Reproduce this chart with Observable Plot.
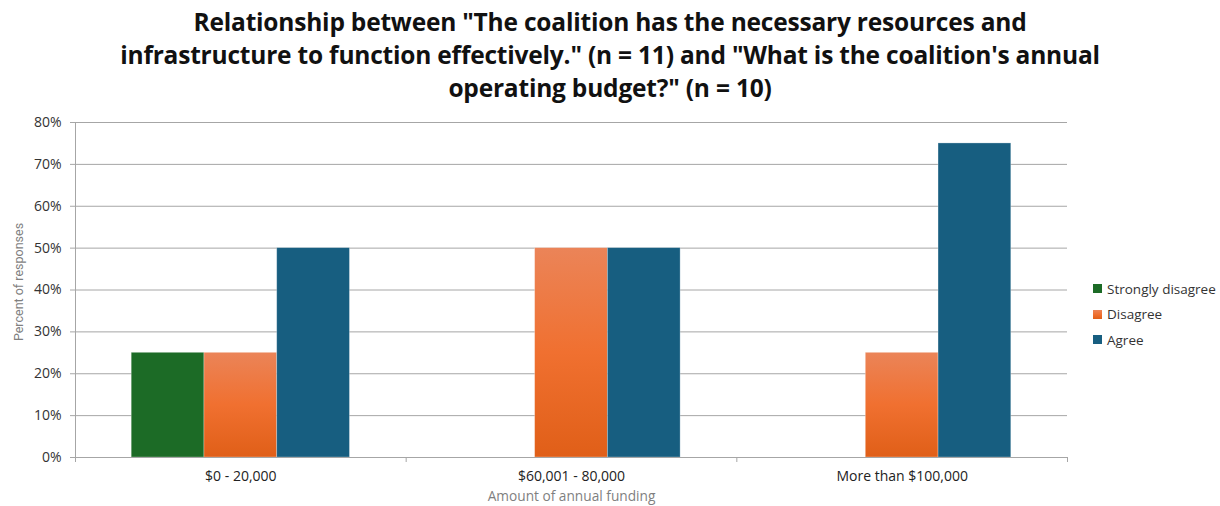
<!DOCTYPE html>
<html><head><meta charset="utf-8">
<script src="https://cdn.jsdelivr.net/npm/d3@7"></script>
<script src="https://cdn.jsdelivr.net/npm/@observablehq/plot@0.6"></script>
<style>
body{margin:0;background:#fff;font-family:"Open Sans",sans-serif;}
#wrap{position:relative;width:1220px;height:506px;overflow:hidden}
#title{padding-top:5px;text-align:center;font-weight:700;font-size:24.5px;line-height:33px;color:#111;height:99px;letter-spacing:-0.2px;white-space:nowrap}
#legend{position:absolute;left:1093px;top:276px;font-size:13.5px;color:#333}
.item{display:flex;align-items:center;height:25.5px}
.sw{width:9px;height:9px;margin-right:5px}
</style></head><body>
<div id="wrap">
<div id="title">Relationship between "The coalition has the necessary resources and<br>infrastructure to function effectively." (n = 11) and "What is the coalition's annual<br>operating budget?" (n = 10)</div>
<div id="chart"></div>
<div id="legend"></div>
</div>
<script>
const groups = ["$0 - 20,000", "$60,001 - 80,000", "More than $100,000"];
const seriesNames = ["Strongly disagree", "Disagree", "Agree"];
const stronglyDisagree = [0.25, 0, 0];
const disagree = [0.25, 0.5, 0.25];
const agree = [0.5, 0.5, 0.75];
const yTicks = [0, 0.1, 0.2, 0.3, 0.4, 0.5, 0.6, 0.7, 0.8];
const xTitle = ["Amount of annual funding"];
const yTitle = ["Percent of responses"];

const colors = ["#1c6b26", "url(#disGrad)", "#175e80"];
const swatchCss = ["#1c6b26", "linear-gradient(#eb8458,#f07030,#e05f18)", "#175e80"];
const barWidth = 0.22;
const values = [stronglyDisagree, disagree, agree];
const data = [];
groups.forEach((g, gi) => seriesNames.forEach((s, si) => data.push({group: g, gi, series: s, si, value: values[si][gi]})));

const grid = "#a6a6a6";
const chart = Plot.plot({
  width: 1220, height: 402,
  marginLeft: 75, marginRight: 153, marginTop: 18, marginBottom: 49,
  style: {fontFamily: "Open Sans", fontSize: "14px", color: "#333", background: "#fff"},
  x: {domain: [-0.5, 2.5]},
  y: {domain: [0, 0.8]},
  color: {domain: seriesNames, range: colors},
  marks: [
    Plot.gridY({ticks: yTicks, stroke: grid, strokeOpacity: 1}),
    Plot.rect(data, {
      x1: d => d.gi + (d.si - 1.5) * barWidth,
      x2: d => d.gi + (d.si - 0.5) * barWidth,
      y1: 0, y2: "value", fill: "series",
      stroke: "#fff", strokeOpacity: 0.35, strokeWidth: 0.8
    }),
    Plot.ruleX([-0.5], {stroke: grid}),
    Plot.ruleY([0], {stroke: grid}),
    Plot.axisY({ticks: yTicks, tickFormat: d3.format(".0%"), tickSize: 5, tickPadding: 9, stroke: grid, fill: "#333", fontSize: 14, label: null}),
    Plot.axisX({ticks: [-0.5, 0.5, 1.5, 2.5], tickFormat: () => "", tickSize: 5, stroke: grid, label: null}),
    Plot.axisX({ticks: [0, 1, 2], tickFormat: i => groups[i], tickSize: 0, tickPadding: 14, fill: "#222", fontSize: 14, label: null}),
    Plot.text(xTitle, {frameAnchor: "bottom", dy: 43, fill: "#7f7f7f", fontSize: 13.7}),
    Plot.text(yTitle, {frameAnchor: "left", textAnchor: "middle", dx: -57, dy: -8, rotate: -90, fill: "#7f7f7f", fontSize: 12.5, fontFamily: "Roboto", letterSpacing: "-0.2px"})
  ]
});
const defs = d3.select(chart).insert("defs", ":first-child");
const lg = defs.append("linearGradient").attr("id", "disGrad").attr("x1", 0).attr("y1", 0).attr("x2", 0).attr("y2", 1);
lg.append("stop").attr("offset", "0%").attr("stop-color", "#eb8458");
lg.append("stop").attr("offset", "50%").attr("stop-color", "#f07030");
lg.append("stop").attr("offset", "100%").attr("stop-color", "#e05f18");
document.getElementById("chart").appendChild(chart);

const legend = d3.select("#legend");
seriesNames.forEach((s, i) => {
  const it = legend.append("div").attr("class", "item");
  it.append("div").attr("class", "sw").style("background", swatchCss[i]);
  it.append("span").text(s);
});
</script>
</body></html>
